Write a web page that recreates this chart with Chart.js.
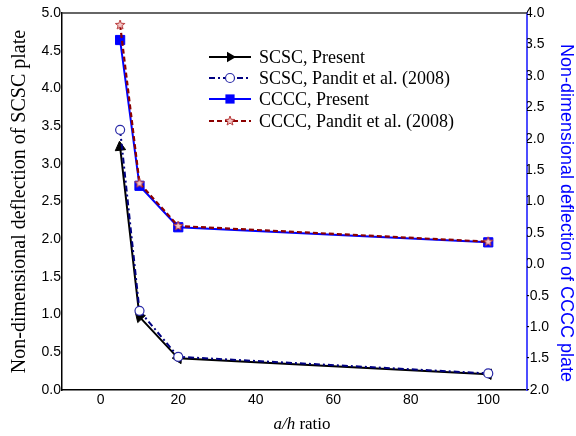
<!DOCTYPE html>
<html>
<head>
<meta charset="utf-8">
<script src="https://cdn.jsdelivr.net/npm/chart.js@4/dist/chart.umd.min.js"></script>
<style>
  body { margin: 0; background: #fff; }
  canvas { display: block; }
</style>
</head>
<body>
<canvas id="chart-deflection" width="576" height="436"></canvas>
<script>
'use strict';

// a/h ratios and deflections
const ratios = [5, 10, 20, 100];
const scscPresent = [3.22, 0.97, 0.42, 0.21];
const scscPandit = [3.45, 1.05, 0.44, 0.22];
const ccccPresent = [3.57, 1.25, 0.59, 0.35];
const ccccPandit = [3.81, 1.29, 0.61, 0.36];
const xTicks = [0, 20, 40, 60, 80, 100];

const labels = [
    'SCSC, Present',
    'SCSC, Pandit et al. (2008)',
    'CCCC, Present',
    'CCCC, Pandit et al. (2008)'
];

// arrows follow the line back toward smaller a/h
const arrowRot = [-6, -43, -88, -88];

function makeStar(size) {
    const c = document.createElement('canvas');
    c.width = size;
    c.height = size;
    const g = c.getContext('2d');
    const cx = size / 2, cy = size / 2, ro = size / 2 - 1, ri = ro * 0.42;
    g.beginPath();
    for (let i = 0; i < 10; i++) {
        const r = i % 2 ? ri : ro;
        const a = -Math.PI / 2 + i * Math.PI / 5;
        g.lineTo(cx + r * Math.cos(a), cy + r * Math.sin(a));
    }
    g.closePath();
    g.fillStyle = '#f3c8c8';
    g.fill();
    g.strokeStyle = '#b83a3a';
    g.lineWidth = 1;
    g.stroke();
    return c;
}
const star = makeStar(12);

function pts(ys) {
    return ratios.map((x, i) => ({x: x, y: ys[i]}));
}

const datasets = [
    {
        data: pts(scscPresent),
        yAxisID: 'y',
        order: 2,
        borderColor: '#000',
        backgroundColor: '#000',
        borderWidth: 2,
        pointStyle: 'triangle',
        pointRadius: 6,
        pointRotation: ctx => arrowRot[ctx.dataIndex],
        pointBorderWidth: 1
    },
    {
        data: pts(scscPandit),
        yAxisID: 'y',
        order: 1,
        borderColor: '#000080',
        backgroundColor: '#fff',
        borderWidth: 2,
        borderDash: [6, 3, 2, 3],
        pointStyle: 'circle',
        pointRadius: 4.5,
        pointBorderColor: '#2a2aa8',
        pointBorderWidth: 1.2
    },
    {
        data: pts(ccccPresent),
        yAxisID: 'y2',
        order: 2,
        borderColor: '#0000ff',
        backgroundColor: '#0000ff',
        borderWidth: 2,
        pointStyle: 'rect',
        pointRadius: 6.5,
        pointBorderWidth: 1
    },
    {
        data: pts(ccccPandit),
        yAxisID: 'y2',
        order: 1,
        borderColor: '#8b0000',
        backgroundColor: '#8b0000',
        borderWidth: 2.2,
        borderDash: [5, 3],
        pointStyle: star,
        pointRadius: 6
    }
];

const tickFont = {family: '"Liberation Sans", Arial, sans-serif', size: 14};

const frame = {
    id: 'frame',
    afterDraw(chart) {
        const ctx = chart.ctx;
        const a = chart.chartArea;
        ctx.save();
        // top border
        ctx.strokeStyle = '#333';
        ctx.lineWidth = 1.5;
        ctx.beginPath();
        ctx.moveTo(a.left, a.top);
        ctx.lineTo(a.right, a.top);
        ctx.stroke();

        // axis titles
        ctx.fillStyle = '#000';
        ctx.textAlign = 'center';
        ctx.textBaseline = 'middle';
        ctx.save();
        ctx.translate(20, (a.top + a.bottom) / 2);
        ctx.rotate(-Math.PI / 2);
        ctx.font = '20px "Liberation Serif", "Times New Roman", serif';
        ctx.fillText('Non-dimensional deflection of SCSC plate', 0, 0);
        ctx.restore();

        ctx.save();
        ctx.translate(566, 213);
        ctx.rotate(Math.PI / 2);
        ctx.fillStyle = '#0000ff';
        ctx.font = '18px "Liberation Sans", Arial, sans-serif';
        ctx.fillText('Non-dimensional deflection of CCCC plate', 0, 0);
        ctx.restore();

        ctx.textAlign = 'left';
        ctx.textBaseline = 'alphabetic';
        const it = 'italic 17px "Liberation Serif", "Times New Roman", serif';
        const rg = '17px "Liberation Serif", "Times New Roman", serif';
        ctx.font = it;
        const w1 = ctx.measureText('a/h').width;
        ctx.font = rg;
        const w2 = ctx.measureText(' ratio').width;
        let x0 = 302 - (w1 + w2) / 2;
        ctx.font = it;
        ctx.fillText('a/h', x0, 429);
        ctx.font = rg;
        ctx.fillText(' ratio', x0 + w1, 429);

        // legend
        const rows = [57, 78, 99, 121];
        ctx.font = '18px "Liberation Serif", "Times New Roman", serif';
        ctx.textBaseline = 'middle';
        datasets.forEach((ds, i) => {
            const y = rows[i];
            ctx.save();
            ctx.strokeStyle = ds.borderColor;
            ctx.lineWidth = ds.borderWidth;
            ctx.setLineDash(ds.borderDash || []);
            ctx.beginPath();
            ctx.moveTo(209, y);
            ctx.lineTo(251, y);
            ctx.stroke();
            ctx.setLineDash([]);
            const mx = 230;
            if (ds.pointStyle === 'triangle') {
                const r = 6;
                ctx.fillStyle = '#000';
                ctx.beginPath();
                for (let k = 0; k < 3; k++) {
                    const ang = Math.PI / 2 + k * 2 * Math.PI / 3;
                    ctx.lineTo(mx + Math.sin(ang) * r, y - Math.cos(ang) * r);
                }
                ctx.closePath();
                ctx.fill();
            } else if (ds.pointStyle === 'circle') {
                ctx.fillStyle = '#fff';
                ctx.strokeStyle = ds.pointBorderColor;
                ctx.lineWidth = ds.pointBorderWidth;
                ctx.beginPath();
                ctx.arc(mx, y, ds.pointRadius, 0, Math.PI * 2);
                ctx.fill();
                ctx.stroke();
            } else if (ds.pointStyle === 'rect') {
                const s = ds.pointRadius * Math.SQRT1_2;
                ctx.fillStyle = ds.backgroundColor;
                ctx.fillRect(mx - s, y - s, 2 * s, 2 * s);
            } else {
                ctx.drawImage(star, mx - star.width / 2, y - star.height / 2);
            }
            ctx.restore();
            ctx.fillStyle = '#000';
            ctx.fillText(labels[i], 259, y + 1);
        });
        ctx.restore();
    }
};

new Chart(document.getElementById('chart-deflection').getContext('2d'), {
    type: 'line',
    data: {datasets: datasets},
    options: {
        responsive: false,
        animation: false,
        layout: {padding: {top: 13, left: 0, right: 0, bottom: 0}},
        plugins: {legend: {display: false}, tooltip: {enabled: false}},
        scales: {
            x: {
                type: 'linear',
                min: -10,
                max: 110,
                grid: {display: false, drawTicks: false},
                border: {color: '#000', width: 1.5},
                afterBuildTicks: s => { s.ticks = xTicks.map(v => ({value: v})); },
                afterFit: s => { s.height = 46; },
                ticks: {font: tickFont, color: '#000', padding: 2, maxRotation: 0}
            },
            y: {
                position: 'left',
                min: 0,
                max: 5,
                grid: {display: false, drawTicks: false},
                border: {color: '#000', width: 1.5},
                afterFit: s => { s.width = 62; },
                ticks: {
                    stepSize: 0.5, font: tickFont, color: '#000', padding: 1,
                    callback: v => v.toFixed(1)
                }
            },
            y2: {
                position: 'right',
                min: -2,
                max: 4,
                grid: {display: false, drawTicks: false},
                border: {color: '#4d4dff', width: 2},
                afterFit: s => { s.width = 49; },
                ticks: {
                    stepSize: 0.5, font: tickFont, color: '#000', padding: -2,
                    callback: v => v.toFixed(1)
                }
            }
        }
    },
    plugins: [frame]
});
</script>
</body>
</html>
